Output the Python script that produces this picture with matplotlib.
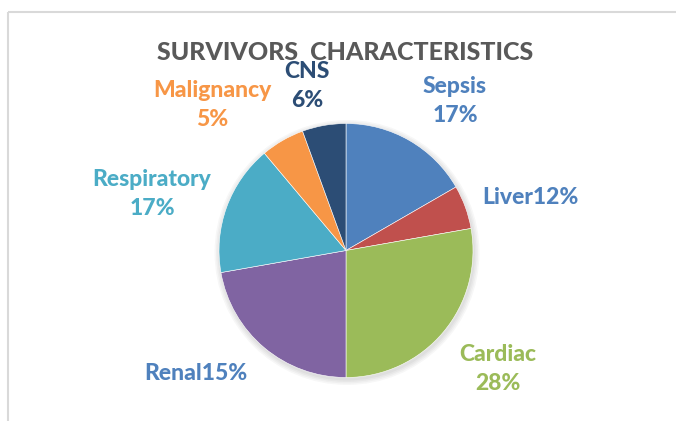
import matplotlib
matplotlib.use("Agg")
import matplotlib.pyplot as plt
from matplotlib.patches import Circle

# ---- data ----
categories = ["Sepsis", "Liver", "Cardiac", "Renal", "Respiratory", "Malignancy", "CNS"]
values = [18, 6, 30, 24, 18, 6, 6]
label_texts = ["Sepsis\n17%", "Liver12%", "Cardiac\n28%", "Renal15%",
               "Respiratory\n17%", "Malignancy\n5%", "CNS\n6%"]
title = "SURVIVORS  CHARACTERISTICS"

# ---- styles ----
slice_colors = ["#4F81BD", "#C0504D", "#9BBB59", "#8064A2", "#4BACC6", "#F79646", "#2C4D75"]
label_colors = ["#4F81BD", "#4F81BD", "#9BBB59", "#4F81BD", "#4BACC6", "#F79646", "#2C4D75"]
# label centres in pixel coordinates (x, y from top)
label_pos = [(455, 101), (530, 198), (498, 369), (196, 373), (152, 194), (212, 105), (307, 86)]

W, H = 676, 421
fig = plt.figure(figsize=(W / 100, H / 100), dpi=100)
ax = fig.add_axes([0, 0, 1, 1])
ax.set_xlim(0, W)
ax.set_ylim(0, H)
ax.set_aspect("equal")
ax.axis("off")

font = "Lato"
cx, cy, r = 346, H - 250.5, 127

# soft shadow
for i, a in enumerate([0.03, 0.03, 0.03, 0.03]):
    ax.add_patch(Circle((cx + 1, cy - 2), r + 1 + i * 1.5, color="black", alpha=a, lw=0, zorder=1))

wedges, _ = ax.pie(values, colors=slice_colors, startangle=90, counterclock=False,
                   center=(cx, cy), radius=r, frame=True,
                   wedgeprops=dict(linewidth=0.4, edgecolor="white"))
for w in wedges:
    w.set_zorder(2)
ax.set_xlim(0, W)
ax.set_ylim(0, H)
ax.axis("off")

for txt, col, (x, y) in zip(label_texts, label_colors, label_pos):
    ax.text(x, H - y, txt, color=col, fontsize=16.5, fontweight="black", family=font,
            ha="center", va="center", linespacing=1.42, zorder=3)

ax.text(345, H - 52, title, color="#595959", fontsize=18, fontweight="black",
        family=font, ha="center", va="center", zorder=3)

# chart frame (partially visible)
ax.plot([8, W], [H - 12, H - 12], color="#D9D9D9", lw=1.5, zorder=0, solid_capstyle="butt")
ax.plot([8, 8], [H - 12, 0], color="#D9D9D9", lw=1.5, zorder=0, solid_capstyle="butt")

fig.savefig("out.png", dpi=100, facecolor="white")
